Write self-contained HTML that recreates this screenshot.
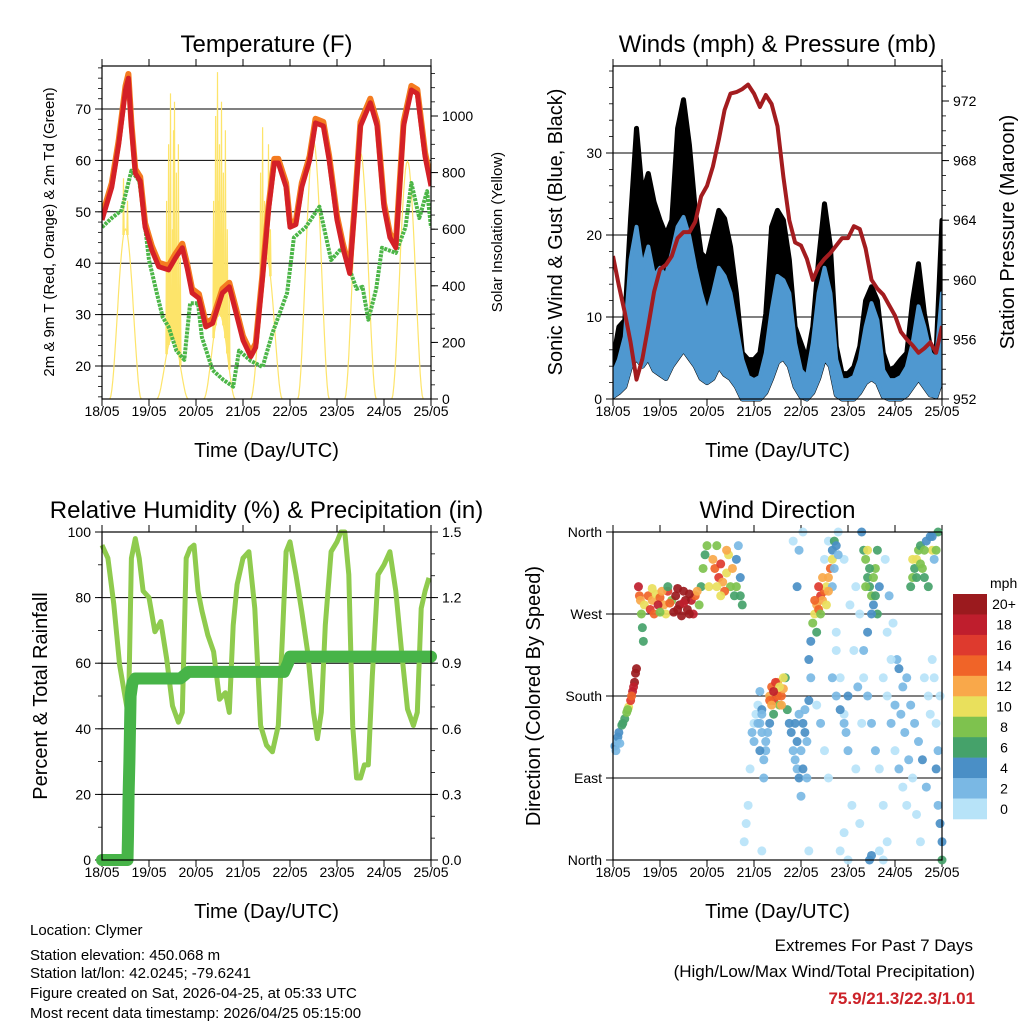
<!DOCTYPE html>
<html><head><meta charset="utf-8">
<style>
html,body{margin:0;padding:0;background:#fff;}
svg{display:block;font-family:"Liberation Sans",Arial,sans-serif;}
</style></head>
<body>
<svg id="chart" width="1024" height="1024" viewBox="0 0 1024 1024" xmlns="http://www.w3.org/2000/svg">
<g id="p1"></g>
<g id="p2"></g>
<g id="p3"></g>
<g id="p4"></g>
<g font-size="15" fill="#000">
<text x="30" y="935">Location: Clymer</text>
<text x="30" y="960">Station elevation: 450.068 m</text>
<text x="30" y="978">Station lat/lon: 42.0245; -79.6241</text>
<text x="30" y="998">Figure created on Sat, 2026-04-25, at 05:33 UTC</text>
<text x="30" y="1018">Most recent data timestamp: 2026/04/25 05:15:00</text>
</g>
<g font-size="17" text-anchor="end">
<text x="973" y="951">Extremes For Past 7 Days</text>
<text x="975" y="977">(High/Low/Max Wind/Total Precipitation)</text>
<text x="975" y="1004" fill="#cc2229" font-weight="bold">75.9/21.3/22.3/1.01</text>
</g>
</svg>
<script>
// ---------- DATA ----------
const dayLabels = ["18/05","19/05","20/05","21/05","22/05","23/05","24/05","25/05"];
// Temperature (F)
const tHours = [0,5,8.5,12,13.5,15,17,19.5,22,25.5,29,34,37.5,41,43.5,46,49.5,53,56.5,61.5,65,68.5,72,76,78.5,82,85,88,90,94,96,99,102,106,109,113,116,120,123,126.5,129,132,137,140.5,144,147,150,154,158,161,165,168];
const tempT = [48.4,54.8,63,73.7,76,66.5,57.5,56,47,42.5,39.3,38.7,41,43,39,34.2,33.2,27.6,28.3,34.2,35.4,30.3,25,21.8,23.6,37.3,50.3,59.5,59.5,54.8,47,47.5,54.8,60,67.3,66.7,60,48.4,43,38,50.3,66.7,71.2,66.7,50.9,45,43,66.7,73.7,73,60.7,55];
const tdHours = [0,5,10,15,19,21.5,24,28,31,34,38,42,45,49,51,56.5,62,67,70,76,82,87,94.5,98,104,111,117,122.5,130,133,136,140,143,150,155,158,162,166,168];
const tempTd = [47,48.8,50.3,58,56,48.8,40.6,34.2,29.5,27.6,23,21.2,32.2,32.2,25.6,19.2,17.3,16,23,21,19.8,26.4,34.2,45,47,51,40.6,43,35,35.4,29,35,43,42,47,55.6,48.8,54,47];
const solarPeakHour = [12,36,60,84,108,132,156];
const solarEnvelope = [600,220,300,500,910,870,840];
const solarSpikeH = [11,12,13,33,34,34.5,35,36,36.5,37,38,39,40,57,58,59,59.5,60,61,62,63,64,65,81,82,83,85,86];
const solarSpikeV = [780,600,700,700,900,400,1080,600,950,1050,800,900,500,700,1000,1155,700,900,1050,800,950,600,400,800,960,700,900,600];
// Winds (mph), 3-hourly
const windLo = [0.3,0.8,1.5,4,5,4,5,3.5,3,2.5,4,5,6,5,4,2.5,2,2.5,4,3,2.5,1.5,0,0,0,0,0.8,2.5,4.5,5,4,1.5,0.3,0,0.8,2.5,5,4,0.5,0,0,0,0.8,2,2.5,2,0.3,0,0,0,0.5,1.5,2.5,1.5,0.5,0.3,2.5];
const windHi = [3.1,4.8,7.6,17,21,16,18.6,15,16,15,17.8,21,22.2,19.8,16,12.9,10.4,12.9,16,15,12.9,8.8,4.8,2.7,2.3,2.7,5.6,10.8,15,14.5,12.9,6.8,3.5,2.7,6.8,12.9,16,12.9,4.8,2.3,2.3,2.7,4.8,8.8,11.7,9.6,3.5,2.3,2.3,2.7,3.9,6.8,11.3,8.8,5.6,4.8,12.9];
const gustHi = [4.8,8.8,9.6,22,33,25,27.5,24,21.8,20,21.8,33,36.5,31,23,17.8,17,20,23,22,18.6,12.9,5.6,4.8,4.8,5.6,10.4,21,23,21.8,17,8.8,6.8,4.8,8.8,17,23.8,18.6,6.4,3.1,3.1,3.9,6.4,12,13.7,12,5.6,3.5,3.9,4.8,5.6,12,16.5,10.4,6.4,5.6,21.8];
const pressure = [961.6,959.6,957.8,955.8,953.3,954.7,956.9,959.2,960.7,961,961.6,962.8,963.2,963.2,963.9,965.6,966.3,967.6,969.4,971.4,972.5,972.6,972.8,973.1,972.5,971.6,972.4,971.8,970.3,966.9,964,962.5,962.3,961.4,960,960.9,961.4,961.8,962.3,962.8,962.8,963.6,963.4,962.1,960,959.4,959,958.3,957.6,956.5,956,955.6,955.1,955.4,955.8,955.1,956.9];
// Relative humidity (%)
const rhHours = [0,3,6,9,12,13.5,15,17,19,21,24,27,30,33,36,39,41,43,45,47,49,51,54,57,60,63,65,67,69,72,75,78,81,84,87,90,92,94,96,99,102,105,108,110,112,114,117,120,122,124,126,128,130,132,134,136,138,141,144,147,150,153,156,159,161,163,165,167];
const rh = [96,92,78,59.5,49,44,92,98,92,82,80,69.6,72.7,61.5,47,42,45,92,95,96,82,76,68.6,63.5,49,51,45,71.6,84,92,94,76.7,41,35,33,41,66.6,94,97,87,75.7,63.5,45,37,45,71.6,94,97,100,100,87,41,25,25,29,29,56,87,90,94,82,63.5,46,41,45,76.7,82,86];
// Precip (in, cumulative)
const prHours = [0,13,13.3,13.6,14,14.3,14.6,15.5,17,40,42,44,93,95,96,168];
const precip = [0,0,0.11,0.3,0.45,0.6,0.75,0.81,0.83,0.83,0.845,0.86,0.86,0.9,0.93,0.93];
// Wind direction scatter
const wdHour = [1,2,3,4.5,6,7,8,9,10,11,11.5, 13,13.5,14,14.5,15,15.5,16, 18,20,22,24,26,28,30, 32,34,36,38,40,42,44,45, 46,47,48,49, 52,54,56,58,60,62,63,64,65,66,
 67,68,69,70,71,72,73,74,75,76,72,74,76,78,
 80,81,82,83,84,85,86,87,88,89,90,82,80,79,
 91,92,93,94,95,96,97,98,99,100,101,92,94,95,97,100,
 102,103,104,105,106,107,108,109,110,111,104,101,100,
 108,110,112,114,116,118,120,115,118,121,123,125,127,124,122,118,116,120,126,112,113,114,116,118,119,120,
 128,129,130,131,132,133,134,135,130,128,127,136,131,132,
 138,140,142,144,146,148,150,139,141,143,145,147,149,151,153,155,157,146,148,144,159,161,163,165,166,167,168,165,167,140,138,136,
 152,153,154,155,156,157,158,159,160,162,163,164,166,168,
 19,21,23,25,27,29,31,33,35,37,39,41,43,33,36,39,20,24,28,
 51,53,55,57,59,61,63,65,55,58,53,
 1.5,2.5,3.5,5,7.5,9.5,10.5,12,
 80,81,83,84,85,86,87,82,
 75,76,77,78,76,77,75,
 93,94,96,97,99,98,95,
 103,105,107,109,106,110,112,113,114,115,
 129,130,131,132,133,134,135,
 153,155,157,159,161,163,165,
 104,106,108,110,112,114,124,126,128,130,132,134,136,138,140,142,150,152,154,156,158,160,162,164,166];
const wdDir = [125,130,140,148,155,162,168,175,185,195,205, 300,290,285,270,255,240,280, 290,285,292,288,280,295,285, 290,280,295,275,285,290,280,300, 320,335,345,300, 320,310,305,315,300,290,330,345,310,280,
 20,40,60,100,140,150,160,170,185,10,130,150,165,120,
 180,190,175,185,195,170,180,188,200,165,150,160,150,140,
 140,120,110,100,90,70,150,165,130,175,200,350,300,340,360,10,
 260,270,280,275,290,285,295,300,310,320,250,240,220,
 330,350,300,250,200,160,120,360,330,280,230,190,150,100,60,30,10,0,40,340,320,180,165,150,140,180,
 340,330,310,300,290,280,320,270,250,230,360,300,0,5,
 200,180,150,120,100,80,60,330,290,260,220,160,140,110,90,50,20,210,190,170,200,180,220,100,60,40,20,150,180,20,0,10,
 300,310,320,330,340,345,320,310,350,355,340,330,360,0,
 275,270,280,295,270,282,272,298,268,285,292,270,295,275,282,270,298,272,300,
 330,300,325,295,335,320,300,290,290,340,345,
 120,135,128,150,165,180,190,210,
 175,170,195,180,190,170,200,185,
 120,140,110,130,160,90,150,
 150,130,120,100,90,140,160,
 285,300,310,280,270,295,330,350,345,335,
 300,340,320,270,310,290,340,
 330,310,325,340,300,355,340,
 170,150,120,90,200,230,300,270,200,180,150,120,100,60,250,220,200,170,150,130,110,80,160,200,120];
const wdSpd = [4,3,5,6,7,8,10,16,18,20,20, 18,14,12,8,6,7,10, 14,12,10,14,12,16,8, 20,22,21,20,18,14,8,6, 8,6,8,10, 14,16,12,10,8,6,4,3,4,6,
 1,0,1,0,2,1,0,1,2,1,3,2,4,3,
 12,14,16,10,12,8,14,12,6,6,4,6,4,3,
 4,3,2,3,4,2,4,3,2,4,2,1,4,2,1,1,
 8,10,12,14,16,12,14,10,12,14,6,4,4,
 1,0,2,1,0,1,2,1,1,0,1,2,0,1,0,1,0,1,1,4,3,3,4,2,3,4,
 6,8,6,7,8,5,9,6,4,3,5,4,5,4,
 1,0,2,1,3,1,0,1,2,1,2,3,2,3,1,0,1,4,3,2,1,0,1,4,3,4,5,1,0,1,0,1,
 6,8,6,10,8,7,9,6,5,4,10,3,6,6,
 16,14,18,12,10,14,20,22,20,22,20,18,12,20,18,22,10,8,6,
 12,10,16,14,10,12,8,6,10,12,8,
 3,4,2,6,8,14,18,20,
 14,12,16,14,10,12,10,18,
 4,2,2,3,3,2,2,
 4,4,3,4,2,4,3,
 14,16,12,10,8,12,10,6,4,3,
 8,10,6,4,8,6,7,
 10,6,8,9,6,5,8,
 1,2,0,1,2,1,1,0,1,2,3,2,1,1,1,0,2,3,2,3,4,2,1,0,3];
const speedBins = ["20+","18","16","14","12","10","8","6","4","2","0"];
const speedColors = ["#9b1a1e","#bf1e2d","#de3a2e","#f06428","#f9a84a","#e9e05c","#7ec24e","#45a26a","#4a8fc6","#7ab8e4","#b7e3f8"];

// ---------- HELPERS ----------
const NS = "http://www.w3.org/2000/svg";
function mk(parent, tag, attrs, text){
  const e = document.createElementNS(NS, tag);
  for (const k in attrs) e.setAttribute(k, attrs[k]);
  if (text !== undefined) e.textContent = text;
  parent.appendChild(e);
  return e;
}
function linScale(d0,d1,r0,r1){ return v => r0 + (v-d0)/(d1-d0)*(r1-r0); }
function pathFrom(xs, ys){ return xs.map((x,i)=>(i?'L':'M')+x.toFixed(1)+' '+ys[i].toFixed(1)).join(' '); }
const wHours = windLo.map((_,i)=>i*3);

function frame(g, box, title, xTitle){
  const {x0,x1,y0,y1} = box;
  let e = mk(g,'text',{x:(x0+x1)/2,y:y0-14,'text-anchor':'middle','font-size':24},title);
   
  e = mk(g,'text',{x:(x0+x1)/2,y:y1+58,'text-anchor':'middle','font-size':20},xTitle);
   
  const sx = linScale(0,168,x0,x1);
  const xg = mk(g,'g',{});
   
  dayLabels.forEach((lab,i)=>{
    const x = sx(i*24);
    mk(xg,'line',{x1:x,x2:x,y1:y1,y2:y1+7,stroke:'#000','stroke-width':1});
    mk(xg,'line',{x1:x,x2:x,y1:y0,y2:y0-7,stroke:'#000','stroke-width':1});
    const t = mk(xg,'text',{x:x,y:y1+17,'text-anchor':'middle','font-size':14},lab);
     
  });
  return sx;
}
function border(g, box){
  const r = mk(g,'rect',{x:box.x0,y:box.y0,width:box.x1-box.x0,height:box.y1-box.y0,fill:'none',stroke:'#000','stroke-width':1.2});
   
}
function yAxis(g, box, sy, ticks, labels, side, minorStep, dmin, dmax, grid){
  const ag = mk(g,'g',{});
  
  
  const xe = side==='left'?box.x0:box.x1, dir = side==='left'?-1:1;
  if (minorStep) for (let v=Math.ceil(dmin/minorStep)*minorStep; v<=dmax; v+=minorStep){
    const y=sy(v); mk(ag,'line',{x1:xe,x2:xe+dir*4,y1:y,y2:y,stroke:'#000','stroke-width':0.8});
  }
  ticks.forEach((v,i)=>{
    const y = sy(v);
    mk(ag,'line',{x1:xe,x2:xe+dir*7,y1:y,y2:y,stroke:'#000','stroke-width':1});
    if (grid) mk(ag,'line',{x1:box.x0,x2:box.x1,y1:y,y2:y,stroke:'#000','stroke-width':1});
    const t = mk(ag,'text',{x:xe+dir*11,y:y+5,'text-anchor':side==='left'?'end':'start','font-size':14},labels[i]);
     
  });
}
function vTitle(g, x, y, text, size, name){
  const t = mk(g,'text',{x:0,y:0,transform:`translate(${x},${y}) rotate(-90)`,'text-anchor':'middle','font-size':size},text);
   
}

// ---------- PANEL 1: Temperature ----------
(function(){
  const g = document.getElementById('p1');
  const box = {x0:102,x1:431,y0:66,y1:399};
  const sx = frame(g, box, 'Temperature (F)', 'Time (Day/UTC)');
  const sy = linScale(20,70,366,109);
  const sS = linScale(0,1000,399,116);
  yAxis(g, box, sy, [20,30,40,50,60,70], ['20','30','40','50','60','70'], 'left', 2, 14, 78, true);
  yAxis(g, box, sS, [0,200,400,600,800,1000], ['0','200','400','600','800','1000'], 'right', 50, 0, 1170, false);
  vTitle(g, 54, 232, '2m & 9m T (Red, Orange) & 2m Td (Green)', 15, 'left-y-axis-title');
  vTitle(g, 502, 232, 'Solar Insolation (Yellow)', 15, 'right-y-axis-title');
  const clip = mk(g,'clipPath',{id:'c1'}); mk(clip,'rect',{x:box.x0,y:box.y0,width:329,height:333});
  const pg = mk(g,'g',{'clip-path':'url(#c1)'});
  solarPeakHour.forEach((ph,d)=>{
    const xs=[], ys=[];
    for (let k=-8;k<=8;k+=0.5){
      const f = Math.cos(k/8*Math.PI/2); const v = solarEnvelope[d]*Math.pow(Math.max(f,0),1.8);
      xs.push(sx(ph+k)); ys.push(sS(v));
    }
    const p = mk(pg,'path',{d:pathFrom(xs,ys),fill:'none',stroke:'#fde46a','stroke-width':1.2});
     
  });
  solarSpikeH.forEach((h,i)=>{
    const d = solarPeakHour.reduce((b,ph,j)=>Math.abs(ph-h)<Math.abs(solarPeakHour[b]-h)?j:b,0);
    const k = h - solarPeakHour[d];
    const base = solarEnvelope[d]*Math.pow(Math.max(Math.cos(k/8*Math.PI/2),0),1.8);
    const p = mk(pg,'path',{d:pathFrom([sx(h-0.35),sx(h),sx(h+0.35)],[sS(base),sS(solarSpikeV[i]),sS(base)]),fill:'#fde46a',stroke:'#fde46a','stroke-width':1.2});
     
  });
  let p = mk(pg,'path',{d:pathFrom(tdHours.map(sx),tempTd.map(sy)),fill:'none',stroke:'#4cb648','stroke-width':4,'stroke-dasharray':'3 1','stroke-linejoin':'round'});
   
  p = mk(pg,'path',{d:pathFrom(tHours.map(sx),tempT.map(v=>sy(v+0.8))),fill:'none',stroke:'#f47b20','stroke-width':6,'stroke-linejoin':'round'});
   
  p = mk(pg,'path',{d:pathFrom(tHours.map(sx),tempT.map(sy)),fill:'none',stroke:'#d42027','stroke-width':5,'stroke-linejoin':'round'});
   
  border(g, box);
})();

// ---------- PANEL 2: Winds & Pressure ----------
(function(){
  const g = document.getElementById('p2');
  const box = {x0:613,x1:942,y0:66,y1:399};
  const sx = frame(g, box, 'Winds (mph) & Pressure (mb)', 'Time (Day/UTC)');
  const sy = linScale(0,30,399,153);
  const sp = linScale(952,972,399,101);
  yAxis(g, box, sy, [0,10,20,30], ['0','10','20','30'], 'left', 2, 0, 40, true);
  yAxis(g, box, sp, [952,956,960,964,968,972], ['952','956','960','964','968','972'], 'right', 1, 952, 974, false);
  vTitle(g, 562, 232, 'Sonic Wind & Gust (Blue, Black)', 20, 'left-y-axis-title');
  vTitle(g, 1014, 232, 'Station Pressure (Maroon)', 20, 'right-y-axis-title');
  const clip = mk(g,'clipPath',{id:'c2'}); mk(clip,'rect',{x:box.x0,y:box.y0-4,width:329,height:341});
  const pg = mk(g,'g',{'clip-path':'url(#c2)'});
  const xs = wHours.map(sx);
  let p = mk(pg,'path',{d:pathFrom(xs,gustHi.map(sy))+' '+pathFrom(xs.slice().reverse(),windLo.slice().reverse().map(sy)).replace('M','L')+' Z',fill:'#000',stroke:'#000','stroke-width':5,'stroke-linejoin':'round'});
   
  p = mk(pg,'path',{d:pathFrom(xs,windHi.map(sy))+' '+pathFrom(xs.slice().reverse(),windLo.slice().reverse().map(sy)).replace('M','L')+' Z',fill:'#4f98d0',stroke:'#4f98d0','stroke-width':4,'stroke-linejoin':'round'});
   
  p = mk(pg,'path',{d:pathFrom(xs,pressure.map(sp)),fill:'none',stroke:'#a31c1f','stroke-width':4,'stroke-linejoin':'round'});
   
  border(g, box);
})();

// ---------- PANEL 3: RH & Precip ----------
(function(){
  const g = document.getElementById('p3');
  const box = {x0:102,x1:431,y0:532,y1:860};
  const sx = frame(g, box, 'Relative Humidity (%) & Precipitation (in)', 'Time (Day/UTC)');
  const sy = linScale(0,100,860,532);
  const sr = linScale(0,1.5,860,532);
  yAxis(g, box, sy, [0,20,40,60,80,100], ['0','20','40','60','80','100'], 'left', 10, 0, 100, true);
  yAxis(g, box, sr, [0,0.3,0.6,0.9,1.2,1.5], ['0.0','0.3','0.6','0.9','1.2','1.5'], 'right', 0.1, 0, 1.5, false);
  vTitle(g, 47, 696, 'Percent & Total Rainfall', 20, 'left-y-axis-title');
  let p = mk(g,'path',{d:pathFrom(rhHours.map(sx),rh.map(sy)),fill:'none',stroke:'#8fcb4e','stroke-width':5,'stroke-linejoin':'round'});
   
  p = mk(g,'path',{d:pathFrom(prHours.map(sx),precip.map(sr)),fill:'none',stroke:'#47b448','stroke-width':12,'stroke-linejoin':'round','stroke-linecap':'round'});
   
  border(g, box);
})();

// ---------- PANEL 4: Wind Direction ----------
(function(){
  const g = document.getElementById('p4');
  const box = {x0:613,x1:942,y0:532,y1:860};
  const sx = frame(g, box, 'Wind Direction', 'Time (Day/UTC)');
  const sy = linScale(0,360,860,532);
  yAxis(g, box, sy, [0,90,180,270,360], ['North','East','South','West','North'], 'left', 0, 0, 0, true);
  vTitle(g, 540, 696, 'Direction (Colored By Speed)', 20, 'left-y-axis-title');
  const dg = mk(g,'g',{});
   
  wdHour.forEach((h,i)=>{
    const s = wdSpd[i]; const bin = Math.min(10, Math.floor(s/2));
    const c = mk(dg,'circle',{cx:sx(h),cy:sy(wdDir[i]),r:4.5,fill:speedColors[10-bin],'fill-opacity':0.92});
     
  });
  border(g, box);
  const lg = mk(g,'g',{});
   
  const t = mk(lg,'text',{x:990,y:588,'font-size':14},'mph');
   
  const bh = 225/speedBins.length;
  speedBins.forEach((lab,i)=>{
    const r = mk(lg,'rect',{x:953,y:594+i*bh,width:34,height:bh+0.3,fill:speedColors[i]});
     
    const tx = mk(lg,'text',{x:1004,y:594+i*bh+bh/2+5,'text-anchor':'middle','font-size':14},lab);
     
  });
})();
</script>
</body></html>
